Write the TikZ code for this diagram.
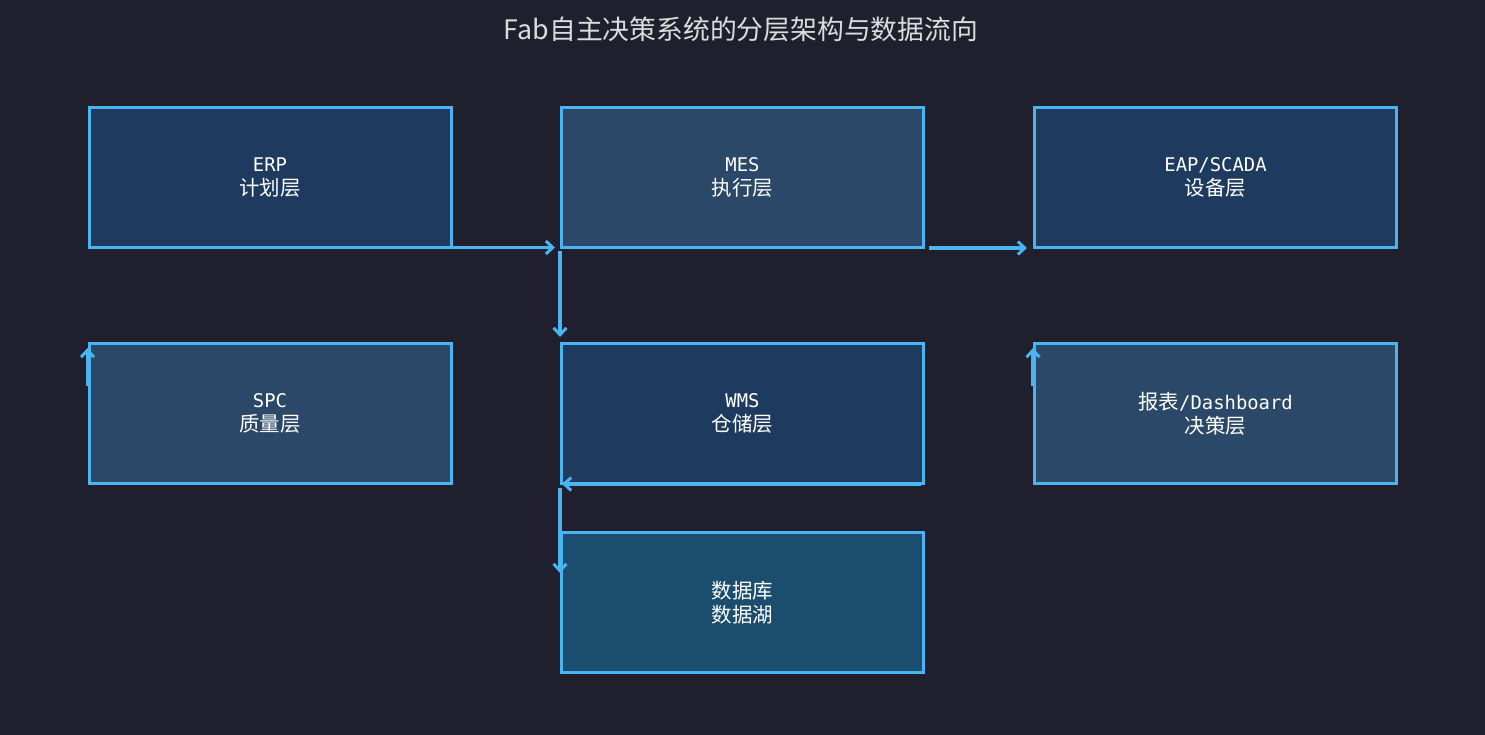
\documentclass[tikz,border=0pt]{standalone}
\usepackage{fontspec}
\setmainfont{Noto Sans CJK SC}
\newfontfamily\monofnt{DejaVu Sans Mono}[Scale=0.92]
\usetikzlibrary{arrows.meta}
\definecolor{bg}{HTML}{1F1F2E}
\definecolor{edge}{HTML}{4AB4F0}
\definecolor{fa}{HTML}{1F3A5F}
\definecolor{fb}{HTML}{2B4868}
\definecolor{fc}{HTML}{1B4D6E}
\definecolor{titlec}{HTML}{DCDCDC}
\tikzset{
  layer/.style={draw=edge, line width=3pt, minimum width=362pt, minimum height=140pt,
    inner sep=0pt, align=center, text=white, font=\fontsize{20.5}{24}\selectfont},
  arr/.style={draw=edge, line width=3.2pt, -{Straight Barb[length=7pt,width=13pt,line width=3pt]}}
}
\begin{document}
\begin{tikzpicture}[x=1pt,y=-1pt]
\fill[bg] (0,0) rectangle (1485,735);
\useasboundingbox (0,0) rectangle (1485,735);
\node[text=titlec, font=\fontsize{26.8}{30}\selectfont] (title) at (741,29) {Fab自主决策系统的分层架构与数据流向};
\node[layer, fill=fa] (erp) at (270,177.5) {{\monofnt ERP}\\计划层};
\node[layer, fill=fb] (mes) at (742.5,177.5) {{\monofnt MES}\\执行层};
\node[layer, fill=fa] (eap) at (1215.5,177.5) {{\monofnt EAP/SCADA}\\设备层};
\node[layer, fill=fb] (spc) at (270,413.5) {{\monofnt SPC}\\质量层};
\node[layer, fill=fa] (wms) at (742.5,413.5) {{\monofnt WMS}\\仓储层};
\node[layer, fill=fb] (dash) at (1215.5,413.5) {报表{\monofnt /Dashboard}\\决策层};
\node[layer, fill=fc] (db) at (742.5,602.5) {数据库\\数据湖};
% connectors
\draw[arr, shorten >=5pt] ([yshift=1.5pt]erp.south) -- ([yshift=1.5pt]mes.south west);
\draw[arr, shorten <=2pt, shorten >=5pt] (mes.south west) -- (wms.north west);
\draw[arr, shorten <=4pt, shorten >=6pt] ([yshift=1pt]mes.south east) -- ([yshift=1pt]eap.south west);
\coordinate (spcin) at ([yshift=-44pt]spc.north west);
\draw[arr, shorten >=6pt] (spcin) -- (spc.north west);
\coordinate (dashin) at ([yshift=-44pt]dash.north west);
\draw[arr, shorten >=6pt] (dashin) -- (dash.north west);
\draw[arr, shorten <=4pt, shorten >=2pt] ([yshift=1pt]wms.south east) -- ([yshift=1pt]wms.south west);
\coordinate (dbin) at ([yshift=-42pt]db.north west);
\draw[arr, shorten <=3pt] (wms.south west) -- (dbin);
\end{tikzpicture}
\end{document}
